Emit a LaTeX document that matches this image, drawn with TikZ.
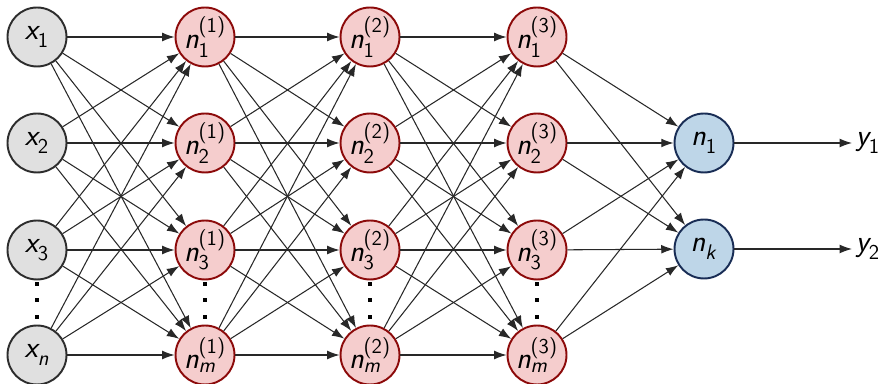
\documentclass[tikz,border=0pt]{standalone}
\usepackage{amsmath}
\usetikzlibrary{arrows.meta}
\renewcommand{\familydefault}{\sfdefault}
\definecolor{ingray}{RGB}{224,224,224}
\definecolor{inedge}{RGB}{45,45,45}
\definecolor{hidfill}{RGB}{245,205,205}
\definecolor{hidedge}{RGB}{140,10,10}
\definecolor{outfill}{RGB}{190,214,232}
\definecolor{outedge}{RGB}{25,45,85}
\definecolor{wire}{RGB}{40,40,40}
% variable with subscript and optional layer index
\newcommand{\nvar}[3]{{\itshape #1}$_{\text{#2}}^{\text{#3}}$}
\tikzset{
  neuron/.style={circle, line width=1.1pt, minimum size=1.18cm, inner sep=0pt, font=\LARGE},
  inputn/.style={neuron, fill=ingray, draw=inedge},
  hiddenn/.style={neuron, fill=hidfill, draw=hidedge},
  outputn/.style={neuron, fill=outfill, draw=outedge},
  label/.style={inner sep=2pt, font=\LARGE},
  wired/.style={draw=wire, line width=0.6pt, -{Latex[length=7pt,width=5pt]}},
  vdot/.style={rectangle, fill=black, inner sep=0pt, minimum size=2.8pt}
}
\begin{document}
\begin{tikzpicture}[x=0.02cm, y=-0.02cm]
\useasboundingbox (0,0) rectangle (882,384);
% input layer
\node[inputn] (x1) at (37,37) {\nvar{x}{1}{}};
\node[inputn] (x2) at (37,143) {\nvar{x}{2}{}};
\node[inputn] (x3) at (37,250) {\nvar{x}{3}{}};
\node[inputn] (x4) at (37,355) {\nvar{x}{\textit{n}}{}};
% hidden layers
\foreach \l/\cx in {1/205,2/370,3/537}{
  \node[hiddenn] (h\l-1) at (\cx,37)  {\nvar{n}{1}{(\l)}};
  \node[hiddenn] (h\l-2) at (\cx,143) {\nvar{n}{2}{(\l)}};
  \node[hiddenn] (h\l-3) at (\cx,250) {\nvar{n}{3}{(\l)}};
  \node[hiddenn] (h\l-4) at (\cx,355) {\nvar{n}{\textit{m}}{(\l)}};
}
% output layer
\node[outputn] (o1) at (704,143) {\nvar{n}{1}{}};
\node[outputn] (o2) at (704,249) {\nvar{n}{\textit{k}}{}};
\node[label, anchor=west] (y1) at (852,143) {\nvar{y}{1}{}};
\node[label, anchor=west] (y2) at (852,249) {\nvar{y}{2}{}};
% vertical ellipses
\foreach \cx/\c in {37/a,205/b,370/c,537/d}{
  \node[vdot] (dot\c1) at (\cx,284) {};
  \node[vdot] (dot\c2) at (\cx,300) {};
  \node[vdot] (dot\c3) at (\cx,317) {};
}
% connections
\foreach \i in {1,...,4}{
  \foreach \j in {1,...,4}{
    \draw[wired] (x\i) -- (h1-\j);
    \draw[wired] (h1-\i) -- (h2-\j);
    \draw[wired] (h2-\i) -- (h3-\j);
  }
  \draw[wired] (h3-\i) -- (o1);
  \draw[wired] (h3-\i) -- (o2);
}
\draw[wired] (o1) -- (y1);
\draw[wired] (o2) -- (y2);
\end{tikzpicture}
\end{document}
